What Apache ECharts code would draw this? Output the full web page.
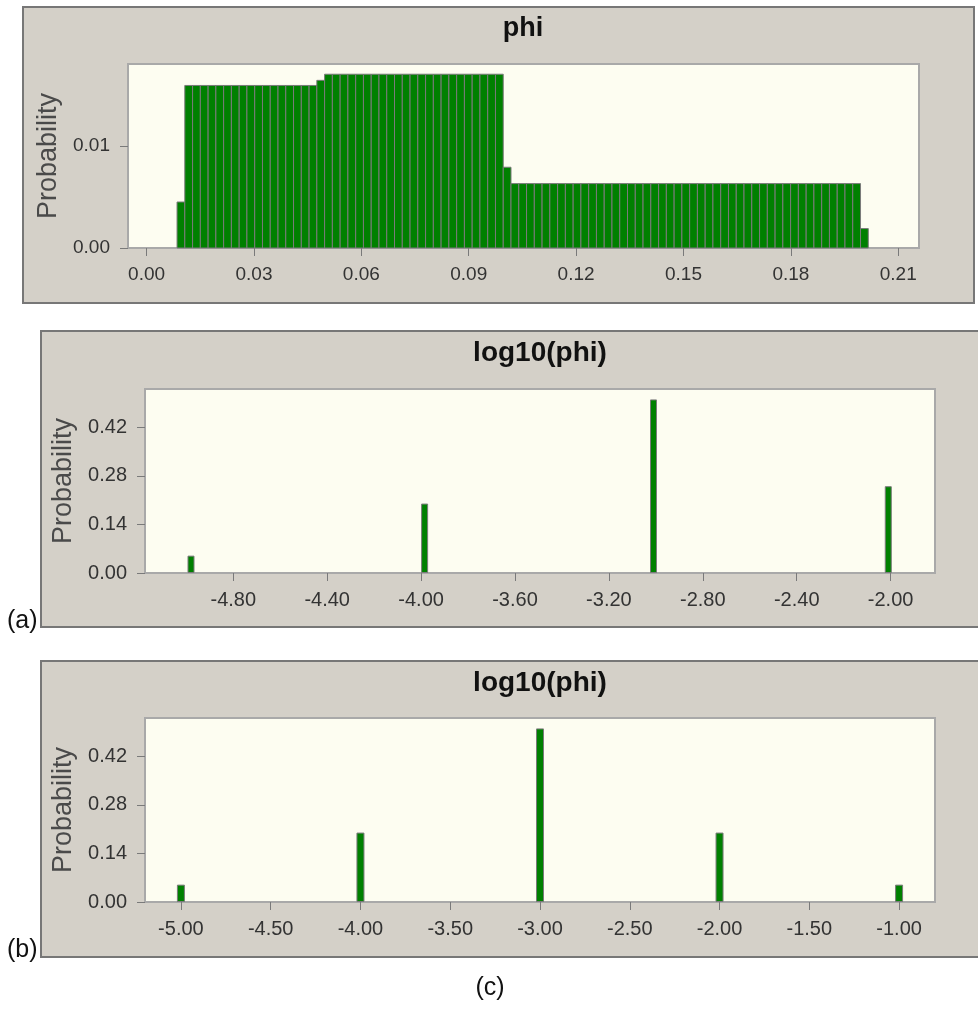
<!DOCTYPE html>
<html>
<head>
<meta charset="utf-8">
<script src="https://cdn.jsdelivr.net/npm/echarts@6/dist/echarts.min.js"></script>
<style>
  html, body { margin: 0; padding: 0; background: #fff; }
  #chart { width: 978px; height: 1027px; }
</style>
</head>
<body>
<div id="chart"></div>
<script>
// panel 1: histogram of phi (one value per bin)
const phiBinStart = 0.0085
const phiBinWidth = 0.00217
const phiProb = [
  0.0045,
  0.0159, 0.0159, 0.0159, 0.0159, 0.0159, 0.0159, 0.0159, 0.0159, 0.0159,
  0.0159, 0.0159, 0.0159, 0.0159, 0.0159, 0.0159, 0.0159, 0.0159,
  0.0164,
  0.0170, 0.0170, 0.0170, 0.0170, 0.0170, 0.0170, 0.0170, 0.0170, 0.0170, 0.0170,
  0.0170, 0.0170, 0.0170, 0.0170, 0.0170, 0.0170, 0.0170, 0.0170, 0.0170, 0.0170,
  0.0170, 0.0170, 0.0170,
  0.0079,
  0.0063, 0.0063, 0.0063, 0.0063, 0.0063, 0.0063, 0.0063, 0.0063, 0.0063, 0.0063,
  0.0063, 0.0063, 0.0063, 0.0063, 0.0063, 0.0063, 0.0063, 0.0063, 0.0063, 0.0063,
  0.0063, 0.0063, 0.0063, 0.0063, 0.0063, 0.0063, 0.0063, 0.0063, 0.0063, 0.0063,
  0.0063, 0.0063, 0.0063, 0.0063, 0.0063, 0.0063, 0.0063, 0.0063, 0.0063, 0.0063,
  0.0063, 0.0063, 0.0063, 0.0063, 0.0063,
  0.0019
]
const phiXTicks = [0, 0.03, 0.06, 0.09, 0.12, 0.15, 0.18, 0.21]
const phiYTicks = [0, 0.01]

// panel (a): log10(phi)
const logAX = [-4.98, -3.985, -3.01, -2.01]
const logAProb = [0.05, 0.20, 0.50, 0.25]
const logAXTicks = [-4.8, -4.4, -4.0, -3.6, -3.2, -2.8, -2.4, -2.0]

// panel (b): log10(phi)
const logBX = [-5, -4, -3, -2, -1]
const logBProb = [0.05, 0.20, 0.50, 0.20, 0.05]
const logBXTicks = [-5.0, -4.5, -4.0, -3.5, -3.0, -2.5, -2.0, -1.5, -1.0]

const probTicks = [0, 0.14, 0.28, 0.42]

const FONT = 'Liberation Sans, Arial, sans-serif'
const panelBg = '#d4d0c8'
const plotBg = '#fdfdf1'
const barGreen = '#008000'

const chart = echarts.init(document.getElementById('chart'))

function xAxisOf(gridIndex, min, max, ticks, fontSize) {
  return {
    type: 'value', gridIndex, min, max,
    axisLine: { show: false, onZero: false },
    axisTick: { show: true, length: 8, lineStyle: { color: '#7a7a7a', width: 1 }, customValues: ticks },
    axisLabel: {
      customValues: ticks, margin: 17, color: '#333', fontSize, fontFamily: FONT,
      formatter: v => v.toFixed(2)
    },
    splitLine: { show: false }
  }
}

function yAxisOf(gridIndex, min, max, ticks, fontSize) {
  return {
    type: 'value', gridIndex, min, max,
    name: 'Probability', nameLocation: 'middle', nameRotate: 90, nameGap: 64,
    nameTextStyle: { fontSize: 27, color: '#4a4a4a', fontFamily: FONT },
    axisLine: { show: false, onZero: false },
    axisTick: { show: true, length: 8, lineStyle: { color: '#7a7a7a', width: 1 }, customValues: ticks },
    axisLabel: {
      customValues: ticks, margin: 18, color: '#333', fontSize, fontFamily: FONT,
      formatter: v => v.toFixed(2)
    },
    splitLine: { show: false }
  }
}

const gridStyle = { show: true, backgroundColor: plotBg, borderColor: '#a9a9a9', borderWidth: 2 }

function panel(x, y, w, h) {
  return {
    type: 'rect', z: -100, shape: { x, y, width: w, height: h },
    style: { fill: panelBg, stroke: '#777', lineWidth: 2 }
  }
}

function label(text, x, y, font, align) {
  return {
    type: 'text', z: 100, x, y,
    style: { text, font, fill: '#111', align: align || 'center', verticalAlign: 'top' }
  }
}

const option = {
  animation: false,
  grid: [
    Object.assign({ left: 128, top: 64, width: 791, height: 184 }, gridStyle),
    Object.assign({ left: 145, top: 389, width: 790, height: 184 }, gridStyle),
    Object.assign({ left: 145, top: 718, width: 790, height: 184 }, gridStyle)
  ],
  xAxis: [
    xAxisOf(0, -0.0052, 0.2158, phiXTicks, 19),
    xAxisOf(1, -5.176, -1.811, logAXTicks, 20),
    xAxisOf(2, -5.2, -0.8, logBXTicks, 20)
  ],
  yAxis: [
    yAxisOf(0, 0, 0.018, phiYTicks, 19),
    yAxisOf(1, 0, 0.53, probTicks, 20),
    yAxisOf(2, 0, 0.53, probTicks, 20)
  ],
  graphic: [
    panel(23, 7, 951, 296),
    panel(41, 331, 945, 296),
    panel(41, 661, 945, 296),
    label('phi', 523, 15, 'bold 27px ' + FONT),
    label('log10(phi)', 540, 339, 'bold 28px ' + FONT),
    label('log10(phi)', 540, 669, 'bold 28px ' + FONT),
    label('(a)', 7, 609, '25px ' + FONT, 'left'),
    label('(b)', 7, 938, '25px ' + FONT, 'left'),
    label('(c)', 490, 976, '25px ' + FONT)
  ],
  series: [
    {
      type: 'custom', xAxisIndex: 0, yAxisIndex: 0,
      encode: { x: [0, 1], y: 2 },
      data: phiProb.map((p, i) => [phiBinStart + i * phiBinWidth, phiBinStart + (i + 1) * phiBinWidth, p]),
      renderItem: (params, api) => {
        const top = api.coord([api.value(0), api.value(2)])
        const bot = api.coord([api.value(1), 0])
        return {
          type: 'rect',
          shape: { x: top[0], y: top[1], width: bot[0] - top[0], height: bot[1] - top[1] },
          style: { fill: barGreen, stroke: '#7a7a7a', lineWidth: 1 }
        }
      }
    },
    {
      type: 'bar', xAxisIndex: 1, yAxisIndex: 1, barWidth: 7,
      data: logAX.map((x, i) => [x, logAProb[i]]),
      itemStyle: { color: barGreen, borderColor: '#7a7a7a', borderWidth: 1 }
    },
    {
      type: 'bar', xAxisIndex: 2, yAxisIndex: 2, barWidth: 8,
      data: logBX.map((x, i) => [x, logBProb[i]]),
      itemStyle: { color: barGreen, borderColor: '#7a7a7a', borderWidth: 1 }
    }
  ]
}

chart.setOption(option)
</script>
</body>
</html>
